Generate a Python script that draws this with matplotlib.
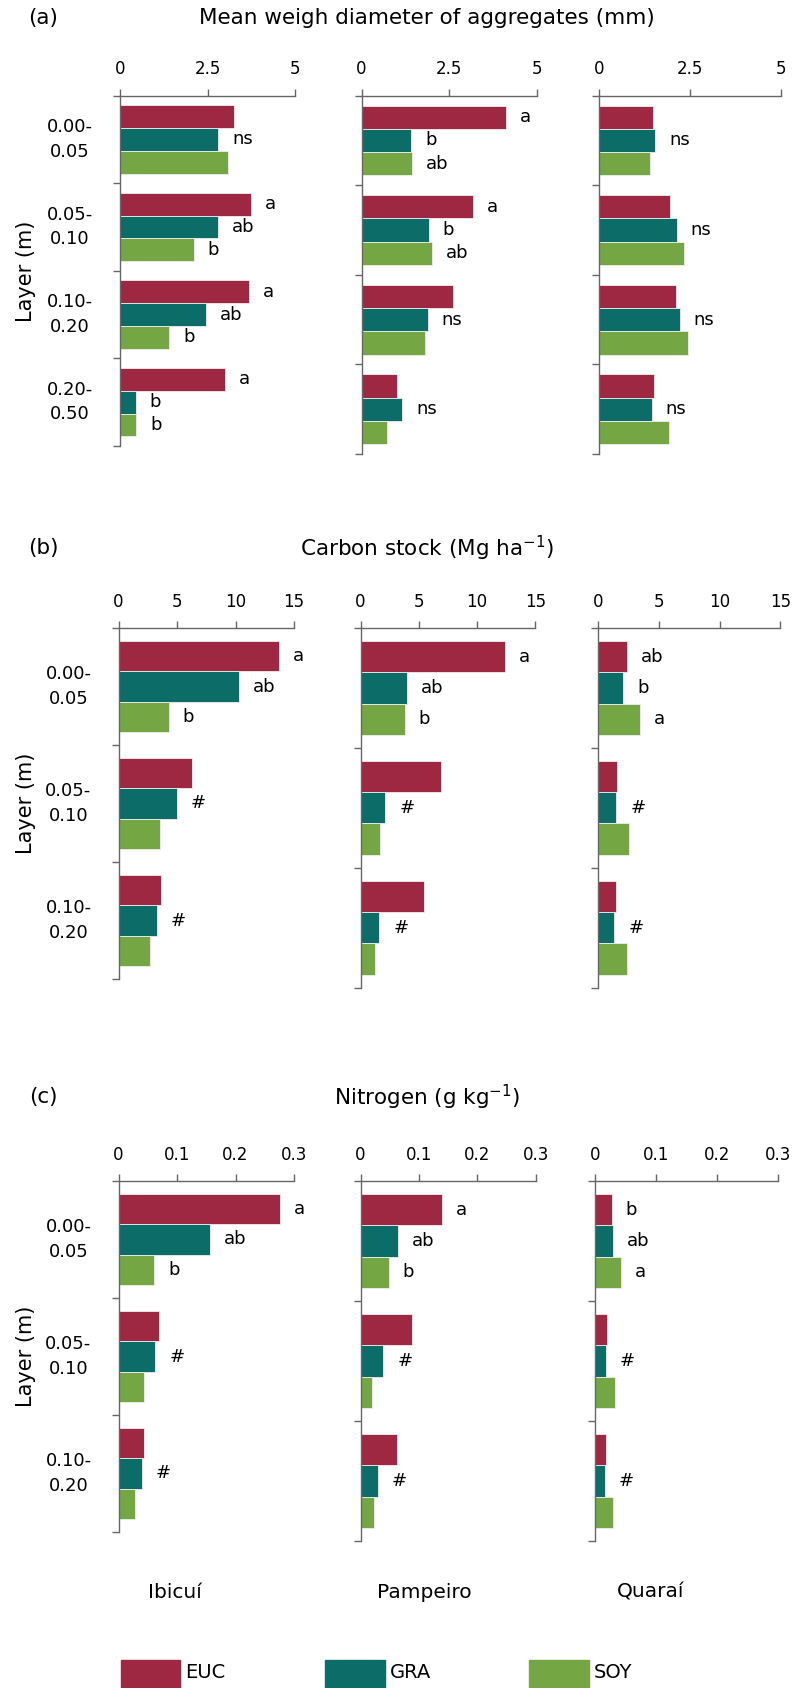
import matplotlib
matplotlib.use("Agg")
import matplotlib.pyplot as plt
from matplotlib.patches import Rectangle
import numpy as np

W, H = 793, 1688

sites = ["Ibicuí", "Pampeiro", "Quaraí"]
treatments = ["EUC", "GRA", "SOY"]
colors = ["#9E2842", "#0B6C68", "#74A743"]

# --- (a) mean weight diameter, rows = sites, cols = layers ---
mwd_layers = ["0.00-\n0.05", "0.05-\n0.10", "0.10-\n0.20", "0.20-\n0.50"]
mwd_euc = [[3.27, 3.74, 3.69, 3.01], [4.13, 3.18, 2.60, 1.01], [1.48, 1.94, 2.11, 1.52]]
mwd_gra = [[2.81, 2.81, 2.46, 0.45], [1.42, 1.91, 1.89, 1.16], [1.55, 2.14, 2.22, 1.45]]
mwd_soy = [[3.08, 2.11, 1.41, 0.47], [1.45, 2.01, 1.81, 0.74], [1.41, 2.33, 2.44, 1.91]]
mwd_letters = [
    [("", "ns", ""), ("a", "ab", "b"), ("a", "ab", "b"), ("a", "b", "b")],
    [("a", "b", "ab"), ("a", "b", "ab"), ("", "ns", ""), ("", "ns", "")],
    [("", "ns", ""), ("", "ns", ""), ("", "ns", ""), ("", "ns", "")],
]

# --- (b) carbon stock ---
soil_layers = ["0.00-\n0.05", "0.05-\n0.10", "0.10-\n0.20"]
cs_euc = [[13.74, 6.30, 3.65], [12.39, 6.89, 5.45], [2.42, 1.55, 1.50]]
cs_gra = [[10.26, 5.00, 3.26], [4.01, 2.14, 1.61], [2.09, 1.50, 1.34]]
cs_soy = [[4.30, 3.52, 2.65], [3.79, 1.66, 1.26], [3.43, 2.55, 2.42]]
cs_letters = [
    [("a", "ab", "b"), ("", "#", ""), ("", "#", "")],
    [("a", "ab", "b"), ("", "#", ""), ("", "#", "")],
    [("ab", "b", "a"), ("", "#", ""), ("", "#", "")],
]

# --- (c) nitrogen ---
n_euc = [[0.276, 0.070, 0.044], [0.139, 0.088, 0.062], [0.027, 0.020, 0.018]]
n_gra = [[0.156, 0.063, 0.040], [0.065, 0.039, 0.030], [0.029, 0.017, 0.016]]
n_soy = [[0.061, 0.044, 0.029], [0.048, 0.020, 0.023], [0.043, 0.033, 0.029]]
n_letters = [
    [("a", "ab", "b"), ("", "#", ""), ("", "#", "")],
    [("a", "ab", "b"), ("", "#", ""), ("", "#", "")],
    [("b", "ab", "a"), ("", "#", ""), ("", "#", "")],
]

panels = [
    dict(tag="(a)", title="Mean weigh diameter of aggregates (mm)", title_y=18,
         layers=mwd_layers, data=(mwd_euc, mwd_gra, mwd_soy), letters=mwd_letters,
         xmax=5, xticks=[0, 2.5, 5], xticklabels=["0", "2.5", "5"],
         boxes=[(120, 295, 95.7, 446), (361.5, 537, 95.7, 454), (599, 781, 95.7, 454)]),
    dict(tag="(b)", title="Carbon stock (Mg ha$^{\\mathregular{-1}}$)", title_y=548,
         layers=soil_layers, data=(cs_euc, cs_gra, cs_soy), letters=cs_letters,
         xmax=15, xticks=[0, 5, 10, 15], xticklabels=["0", "5", "10", "15"],
         boxes=[(118.5, 294, 628, 979), (360.5, 535.3, 628, 987.7), (598, 780.4, 628, 987.7)]),
    dict(tag="(c)", title="Nitrogen (g kg$^{\\mathregular{-1}}$)", title_y=1097,
         layers=soil_layers, data=(n_euc, n_gra, n_soy), letters=n_letters,
         xmax=0.3, xticks=[0, 0.1, 0.2, 0.3], xticklabels=["0", "0.1", "0.2", "0.3"],
         boxes=[(118.5, 294, 1181, 1532), (360.5, 535.8, 1181, 1541), (595.3, 777.8, 1181, 1541)]),
]

plt.rcParams['font.family'] = ['DejaVu Sans']
plt.rcParams['mathtext.fontset'] = 'dejavusans'
fig = plt.figure(figsize=(W / 100, H / 100), dpi=100)

axis_grey = "#666666"
bar_h = 0.26


def px_box(x0, x1, top, bottom):
    return [x0 / W, 1 - bottom / H, (x1 - x0) / W, (bottom - top) / H]


for p in panels:
    fig.text(43 / W, 1 - p["title_y"] / H, p["tag"], fontsize=15.5, ha="center", va="center")
    fig.text(427 / W, 1 - p["title_y"] / H, p["title"], fontsize=15.5, ha="center", va="center")
    n = len(p["layers"])
    centers = np.arange(n) + 0.5
    for s, box in enumerate(p["boxes"]):
        ax = fig.add_axes(px_box(*box))
        for j in range(3):
            vals = p["data"][j][s]
            ys = centers + (j - 1) * bar_h
            ax.barh(ys, vals, height=bar_h, color=colors[j],
                    edgecolor="#eeeeee", linewidth=0.6)
            for k in range(n):
                lab = p["letters"][s][k][j]
                if lab:
                    ax.annotate(lab, xy=(vals[k], ys[k]), xytext=(10, 0),
                                textcoords="offset points", ha="left", va="center",
                                fontsize=13)
        ax.set_xlim(0, p["xmax"])
        ax.set_ylim(n, 0)
        ax.xaxis.tick_top()
        ax.set_xticks(p["xticks"])
        ax.set_xticklabels(p["xticklabels"])
        ax.set_yticks(np.arange(n + 1))
        ax.set_yticklabels([])
        ax.tick_params(axis="x", length=5.4, width=1, color=axis_grey, pad=7, labelsize=12)
        ax.tick_params(axis="y", length=5, width=1, color=axis_grey)
        for side in ("right", "bottom"):
            ax.spines[side].set_visible(False)
        for side in ("top", "left"):
            ax.spines[side].set_color(axis_grey)
            ax.spines[side].set_linewidth(1)
        ax.patch.set_visible(False)
        if s == 0:
            for k, lay in enumerate(p["layers"]):
                ax.annotate(lay, xy=(0, centers[k]), xytext=(-36, 0),
                            textcoords="offset points", ha="center", va="center",
                            fontsize=13, linespacing=1.45)
            ax.set_ylabel("Layer (m)", fontsize=15)
            ax.yaxis.set_label_coords((36 - box[0]) / (box[1] - box[0]), 0.5)

# site names under the columns
for name, x in zip(sites, [175, 424.5, 650.7]):
    fig.text(x / W, 1 - 1592 / H, name, fontsize=14.5, ha="center", va="center")

# legend boxes along the bottom edge
for lab, col, x in zip(treatments, colors, [120.5, 325, 529]):
    fig.add_artist(Rectangle((x / W, 0), 59.5 / W, 28 / H, color=col,
                             transform=fig.transFigure, clip_on=False))
    fig.text((x + 65) / W, 1 - 1673 / H, lab, fontsize=14, ha="left", va="center")

fig.savefig("out.png", dpi=100)
